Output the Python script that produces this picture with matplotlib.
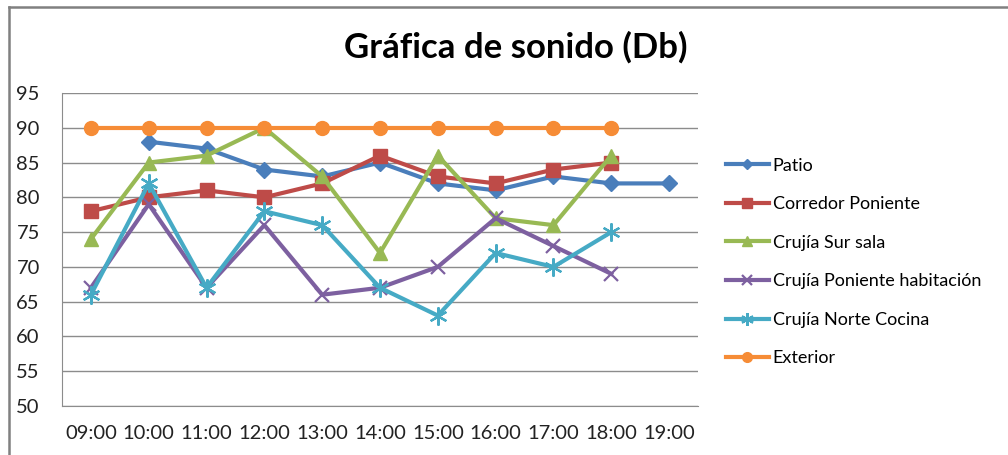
#!/usr/bin/env python3
"""Line chart of sound levels (dB) per area over the day."""
import matplotlib
matplotlib.use("Agg")
import matplotlib.pyplot as plt
import numpy as np
from matplotlib.lines import Line2D

nan = np.nan

hours = ["09:00", "10:00", "11:00", "12:00", "13:00", "14:00",
         "15:00", "16:00", "17:00", "18:00", "19:00"]

patio = [nan, 88, 87, 84, 83, 85, 82, 81, 83, 82, 82]
corredor_poniente = [78, 80, 81, 80, 82, 86, 83, 82, 84, 85, nan]
crujia_sur_sala = [74, 85, 86, 90, 83, 72, 86, 77, 76, 86, nan]
crujia_poniente_hab = [67, 79, 67, 76, 66, 67, 70, 77, 73, 69, nan]
crujia_norte_cocina = [66, 82, 67, 78, 76, 67, 63, 72, 70, 75, nan]
exterior = [90, 90, 90, 90, 90, 90, 90, 90, 90, 90, nan]

plt.rcParams["font.family"] = ["Lato", "DejaVu Sans"]

W, H = 1008, 455
fig = plt.figure(figsize=(W / 100, H / 100), dpi=100)
ax = fig.add_axes([62 / W, 1 - 406 / H, (698 - 62) / W, (406 - 93) / H])

x = np.arange(len(hours))
series = [
    ("Patio", patio, "#4A7EBB", "D", 8, {}),
    ("Corredor Poniente", corredor_poniente, "#BE4B48", "s", 10, {}),
    ("Crujía Sur sala", crujia_sur_sala, "#98B954", "^", 10, {}),
    ("Crujía Poniente habitación", crujia_poniente_hab, "#7D60A0", "x", 10,
     {"markeredgewidth": 1.6}),
    ("Crujía Norte Cocina", crujia_norte_cocina, "#46AAC5", (6, 2, 0), 13,
     {"markeredgewidth": 1.6}),
    ("Exterior", exterior, "#F68C36", "o", 10, {}),
]

for label, vals, color, marker, ms, extra in series:
    ax.plot(x, vals, color=color, lw=3, marker=marker, markersize=ms,
            markerfacecolor=color, markeredgecolor=color, label=label,
            zorder=3, **extra)

ax.set_xlim(-0.5, len(hours) - 0.5)
ax.set_ylim(50, 95)
ax.set_yticks(np.arange(50, 96, 5))
ax.set_xticks(x)
ax.set_xticklabels(hours)
ax.tick_params(axis="both", labelsize=14.5, length=0, colors="#222222")
ax.tick_params(axis="y", pad=16)
ax.tick_params(axis="x", pad=14)
ax.grid(axis="y", color="#8C8C8C", lw=1)
ax.set_axisbelow(True)
for side in ("top", "right"):
    ax.spines[side].set_visible(False)
for side in ("left", "bottom"):
    ax.spines[side].set_color("#8C8C8C")

fig.text(0.512, 0.897, "Gráfica de sonido (Db)", ha="center", va="center",
         fontsize=25, fontweight="bold")

leg = ax.legend(loc="center left", bbox_to_anchor=(1.018, 0.46), frameon=False,
                fontsize=13, labelspacing=1.25, handlelength=2.4,
                handletextpad=0.2, markerscale=0.7)

# chart frame: top and left edges (the rest runs off the canvas)
frame_x, frame_y = 8.5 / W, 1 - 6.5 / H
fig.add_artist(Line2D([frame_x, 1], [frame_y, frame_y], transform=fig.transFigure,
                      color="#808080", lw=1.8))
fig.add_artist(Line2D([frame_x, frame_x], [0, frame_y], transform=fig.transFigure,
                      color="#808080", lw=1.8))

fig.savefig("out.png", dpi=100)
